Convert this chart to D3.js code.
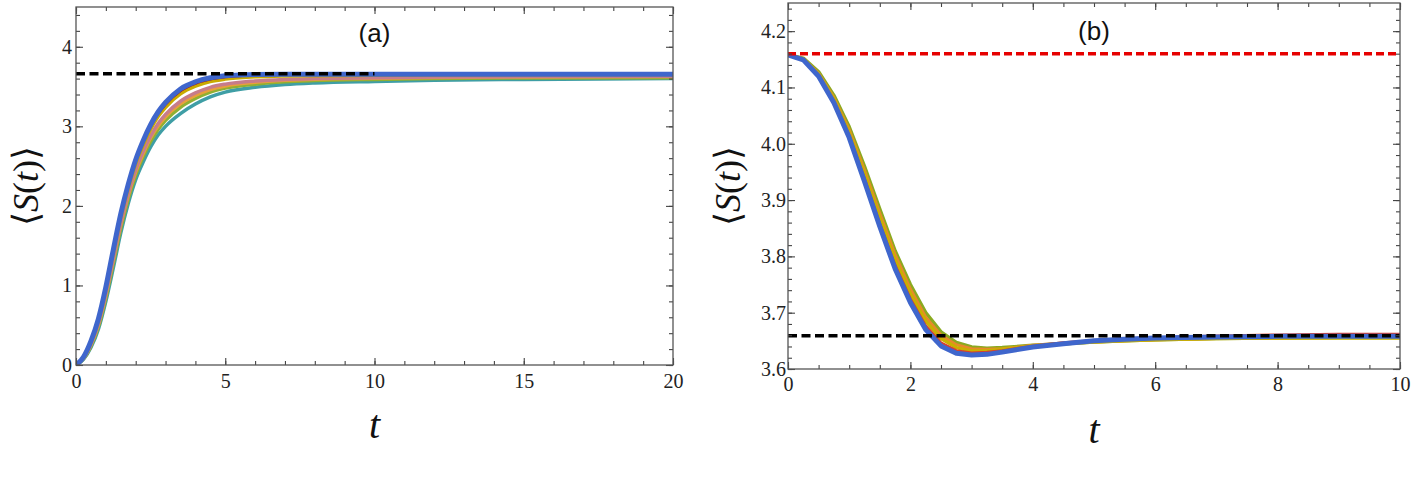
<!DOCTYPE html>
<html>
<head>
<meta charset="utf-8">
<script src="https://cdn.jsdelivr.net/npm/d3@7"></script>
<style>
  body { margin: 0; background: #fff; }
</style>
</head>
<body>
<svg id="chart" width="1412" height="482"></svg>
<script>
// ---- panel (a) data ----
const tA = [0, 0.25, 0.5, 0.75, 1, 1.25, 1.5, 1.75, 2, 2.25, 2.5, 2.75, 3, 3.5, 4, 4.5, 5, 6, 7, 8, 10, 12, 15, 20];
const aTeal   = [0, 0.07, 0.22, 0.45, 0.80, 1.22, 1.66, 2.03, 2.33, 2.55, 2.74, 2.89, 3.00, 3.16, 3.28, 3.37, 3.43, 3.49, 3.525, 3.545, 3.565, 3.58, 3.59, 3.60];
const aGreen  = [0, 0.078, 0.24, 0.48, 0.845, 1.28, 1.72, 2.09, 2.39, 2.62, 2.81, 2.96, 3.075, 3.24, 3.35, 3.43, 3.48, 3.53, 3.56, 3.575, 3.59, 3.60, 3.607, 3.612];
const aOrange = [0, 0.082, 0.25, 0.50, 0.87, 1.31, 1.75, 2.12, 2.42, 2.65, 2.85, 3.00, 3.115, 3.28, 3.385, 3.46, 3.505, 3.55, 3.575, 3.59, 3.60, 3.61, 3.617, 3.622];
const aPink   = [0, 0.085, 0.26, 0.515, 0.89, 1.335, 1.78, 2.15, 2.455, 2.685, 2.88, 3.035, 3.15, 3.315, 3.42, 3.49, 3.53, 3.57, 3.59, 3.60, 3.61, 3.62, 3.625, 3.63];
const aGold   = [0, 0.094, 0.284, 0.554, 0.944, 1.404, 1.852, 2.222, 2.53, 2.766, 2.964, 3.122, 3.24, 3.408, 3.504, 3.562, 3.594, 3.622, 3.633, 3.637, 3.641, 3.644, 3.646, 3.648];
const aRed    = [0, 0.098, 0.294, 0.57, 0.966, 1.43, 1.88, 2.25, 2.56, 2.80, 3.00, 3.157, 3.276, 3.445, 3.538, 3.591, 3.619, 3.642, 3.65, 3.652, 3.654, 3.655, 3.656, 3.656];
const aBlue   = [0, 0.10, 0.30, 0.58, 0.98, 1.45, 1.90, 2.27, 2.58, 2.82, 3.02, 3.18, 3.30, 3.47, 3.56, 3.61, 3.635, 3.652, 3.655, 3.655, 3.655, 3.655, 3.655, 3.655];
const aDashed = [3.66];
const aXTicks = [0, 5, 10, 15, 20];
const aYTicks = [0, 1, 2, 3, 4];

// ---- panel (b) data ----
const tB = [0, 0.25, 0.5, 0.75, 1, 1.25, 1.5, 1.75, 2, 2.25, 2.5, 2.75, 3, 3.25, 3.5, 4, 4.5, 5, 5.5, 6, 7, 8, 9, 10];
const bGreen  = [4.158, 4.152, 4.128, 4.086, 4.03, 3.96, 3.884, 3.81, 3.75, 3.7, 3.666, 3.647, 3.639, 3.637, 3.638, 3.642, 3.645, 3.648, 3.65, 3.652, 3.654, 3.655, 3.656, 3.656];
const bOrange = [4.158, 4.151, 4.125, 4.082, 4.025, 3.953, 3.876, 3.803, 3.742, 3.692, 3.66, 3.643, 3.636, 3.635, 3.636, 3.642, 3.646, 3.648, 3.65, 3.652, 3.654, 3.655, 3.656, 3.656];
const bGold   = [4.158, 4.15, 4.123, 4.079, 4.02, 3.946, 3.868, 3.794, 3.734, 3.685, 3.654, 3.638, 3.632, 3.632, 3.635, 3.641, 3.645, 3.648, 3.65, 3.652, 3.654, 3.655, 3.655, 3.655];
const bRed    = [4.158, 4.15, 4.121, 4.076, 4.015, 3.939, 3.859, 3.785, 3.725, 3.677, 3.647, 3.633, 3.629, 3.63, 3.633, 3.641, 3.647, 3.651, 3.654, 3.656, 3.659, 3.661, 3.662, 3.662];
const bBlue   = [4.158, 4.149, 4.12, 4.073, 4.011, 3.933, 3.853, 3.778, 3.718, 3.67, 3.641, 3.628, 3.625, 3.626, 3.63, 3.639, 3.645, 3.65, 3.653, 3.655, 3.657, 3.658, 3.658, 3.658];
const bDashedRed = [4.16];
const bDashedBlack = [3.659];
const bXTicks = [0, 2, 4, 6, 8, 10];
const bYTicks = [3.6, 3.7, 3.8, 3.9, 4.0, 4.1, 4.2];

const serif = "'Liberation Serif', 'Times New Roman', Times, 'DejaVu Serif', serif";
const svg = d3.select("#chart");

function drawPanel(cfg) {
  const g = svg.append("g");
  const xScale = d3.scaleLinear().domain(cfg.xDomain).range([cfg.left, cfg.right]);
  const yScale = d3.scaleLinear().domain(cfg.yDomain).range([cfg.bottom, cfg.top]);

  g.append("clipPath").attr("id", cfg.id + "clip")
    .append("rect")
    .attr("x", cfg.left).attr("y", cfg.top)
    .attr("width", cfg.right - cfg.left).attr("height", cfg.bottom - cfg.top);

  const plot = g.append("g").attr("clip-path", `url(#${cfg.id}clip)`);

  const lineGenerator = d3.line()
    .x((d) => xScale(d.t))
    .y((d) => yScale(d.v))
    .curve(cfg.curve);

  cfg.series.forEach((s) => {
    const data = cfg.times.map((t, i) => ({ t: t, v: s.values[i] }));
    plot.append("path")
      .datum(data)
      .attr("fill", "none")
      .attr("stroke", s.color)
      .attr("stroke-width", s.width)
      .attr("stroke-linejoin", "round")
      .attr("d", lineGenerator);
  });

  cfg.dashed.forEach((d) => {
    plot.append("line")
      .attr("x1", xScale(d.from)).attr("x2", xScale(d.to))
      .attr("y1", yScale(d.value)).attr("y2", yScale(d.value))
      .attr("stroke", d.color)
      .attr("stroke-width", 3.5)
      .attr("stroke-dasharray", d.dash);
  });

  const minorX = d3.range(cfg.xDomain[0], cfg.xDomain[1] + 1e-9, cfg.xMinor);
  const minorY = d3.range(cfg.yDomain[0], cfg.yDomain[1] + 1e-9, cfg.yMinor);
  const none = () => "";

  // minor ticks on all four sides
  g.append("g").attr("transform", `translate(0,${cfg.bottom})`)
    .call(d3.axisBottom(xScale).tickValues(minorX).tickSize(-4).tickFormat(none));
  g.append("g").attr("transform", `translate(0,${cfg.top})`)
    .call(d3.axisTop(xScale).tickValues(minorX).tickSize(-4).tickFormat(none));
  g.append("g").attr("transform", `translate(${cfg.left},0)`)
    .call(d3.axisLeft(yScale).tickValues(minorY).tickSize(-4).tickFormat(none));
  g.append("g").attr("transform", `translate(${cfg.right},0)`)
    .call(d3.axisRight(yScale).tickValues(minorY).tickSize(-4).tickFormat(none));

  // major ticks
  g.append("g").attr("transform", `translate(0,${cfg.bottom})`)
    .call(d3.axisBottom(xScale).tickValues(cfg.xTicks).tickSize(-7).tickPadding(cfg.xPad).tickFormat(d3.format("d")));
  g.append("g").attr("transform", `translate(0,${cfg.top})`)
    .call(d3.axisTop(xScale).tickValues(cfg.xTicks).tickSize(-7).tickFormat(none));
  g.append("g").attr("transform", `translate(${cfg.left},0)`)
    .call(d3.axisLeft(yScale).tickValues(cfg.yTicks).tickSize(-7).tickPadding(cfg.yPad).tickFormat(d3.format(cfg.yFormat)));
  g.append("g").attr("transform", `translate(${cfg.right},0)`)
    .call(d3.axisRight(yScale).tickValues(cfg.yTicks).tickSize(-7).tickFormat(none));

  g.selectAll(".domain").remove();
  g.selectAll(".tick line").attr("stroke", "#444").attr("stroke-width", 1.1);
  g.selectAll(".tick text")
    .style("font-family", serif)
    .style("font-size", "20px")
    .attr("fill", "#222");

  g.append("rect")
    .attr("x", cfg.left).attr("y", cfg.top)
    .attr("width", cfg.right - cfg.left).attr("height", cfg.bottom - cfg.top)
    .attr("fill", "none")
    .attr("stroke", "#555")
    .attr("stroke-width", 1.3);

  // axis titles
  g.append("text")
    .style("font-family", serif)
    .style("font-size", "40px")
    .style("font-style", "italic")
    .attr("fill", "#111")
    .attr("x", (cfg.left + cfg.right) / 2)
    .attr("y", cfg.tTitleY)
    .attr("text-anchor", "middle")
    .text("t");

  const yTitle = g.append("text")
    .style("font-family", serif)
    .style("font-size", "36px")
    .attr("fill", "#111")
    .attr("text-anchor", "middle")
    .attr("transform", `translate(${cfg.sTitleX},${(cfg.top + cfg.bottom) / 2}) rotate(-90)`);
  yTitle.append("tspan").style("font-family", "'DejaVu Sans'").style("font-weight", 200).text("\u27E8");
  yTitle.append("tspan").style("font-style", "italic").text("S");
  yTitle.append("tspan").text("(");
  yTitle.append("tspan").style("font-style", "italic").text("t");
  yTitle.append("tspan").text(")");
  yTitle.append("tspan").style("font-family", "'DejaVu Sans'").style("font-weight", 200).text("\u27E9");

  g.append("text")
    .style("font-family", "'Liberation Sans', Arial, sans-serif")
    .style("font-size", "26px")
    .attr("fill", "#111")
    .attr("x", (cfg.left + cfg.right) / 2)
    .attr("y", cfg.tagY)
    .attr("text-anchor", "middle")
    .text(cfg.tag);
}

drawPanel({
  id: "a",
  left: 76, right: 673, top: 7, bottom: 365,
  xDomain: [0, 20], yDomain: [0, 4.5],
  xTicks: aXTicks, yTicks: aYTicks, xMinor: 1, yMinor: 0.2,
  xPad: 9, yPad: 4, yFormat: "d",
  times: tA, curve: d3.curveMonotoneX,
  series: [
    { values: aTeal, color: "#3f9ea5", width: 3.5 },
    { values: aGreen, color: "#8fb032", width: 3.5 },
    { values: aOrange, color: "#e8a03a", width: 3 },
    { values: aPink, color: "#c77c8a", width: 3.5 },
    { values: aGold, color: "#c9ab00", width: 3.5 },
    { values: aRed, color: "#a80c0c", width: 2.5 },
    { values: aBlue, color: "#3f66cc", width: 5 }
  ],
  dashed: [{ value: aDashed[0], from: 0, to: 10, color: "#000", dash: "9,4.5" }],
  tTitleY: 438, sTitleX: 38, tag: "(a)", tagY: 42
});

drawPanel({
  id: "b",
  left: 788, right: 1400, top: 3, bottom: 369,
  xDomain: [0, 10], yDomain: [3.6, 4.25],
  xTicks: bXTicks, yTicks: bYTicks, xMinor: 0.5, yMinor: 0.02,
  xPad: 8, yPad: 2, yFormat: ".1f",
  times: tB, curve: d3.curveLinear,
  series: [
    { values: bGreen, color: "#8aaa20", width: 3.5 },
    { values: bOrange, color: "#e8892a", width: 3 },
    { values: bGold, color: "#c9b000", width: 3.5 },
    { values: bRed, color: "#d8402a", width: 2.5 },
    { values: bBlue, color: "#3f66cc", width: 5 }
  ],
  dashed: [
    { value: bDashedRed[0], from: 0, to: 10, color: "#e60000", dash: "8,4" },
    { value: bDashedBlack[0], from: 0, to: 10, color: "#000", dash: "9,4.5" }
  ],
  tTitleY: 443, sTitleX: 740, tag: "(b)", tagY: 40
});
</script>
</body>
</html>
